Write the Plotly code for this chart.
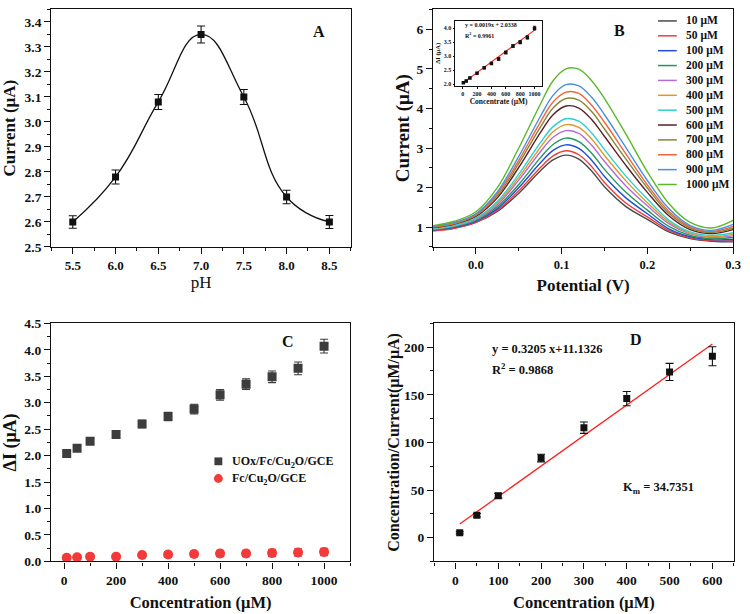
import plotly.graph_objects as go

FONT = "Liberation Serif, Times New Roman, serif"
W, H = 750, 614

# ---------------- Panel A : pH dependence ----------------
ph_values = [5.5, 6.0, 6.5, 7.0, 7.5, 8.0, 8.5]
ph_current = [2.60, 2.78, 3.08, 3.35, 3.10, 2.70, 2.60]
ph_error = [0.025, 0.028, 0.03, 0.034, 0.03, 0.027, 0.026]

# ---------------- Panel B : DPV curves ----------------
potential = [-0.05, -0.025, 0.0, 0.025, 0.05, 0.075, 0.09, 0.105, 0.12, 0.135,
             0.15, 0.175, 0.2, 0.225, 0.25, 0.275, 0.3]
dpv_10 = [0.92, 0.98, 1.12, 1.40, 1.86, 2.42, 2.70, 2.82, 2.72, 2.42, 2.02, 1.52, 1.20, 0.88, 0.71, 0.645, 0.63]
dpv_50 = [0.90, 0.97, 1.12, 1.43, 1.92, 2.50, 2.80, 2.93, 2.83, 2.53, 2.13, 1.61, 1.26, 0.92, 0.73, 0.66, 0.66]
dpv_100 = [0.93, 1.00, 1.15, 1.47, 2.00, 2.62, 2.94, 3.08, 2.99, 2.69, 2.28, 1.74, 1.34, 0.96, 0.76, 0.685, 0.69]
dpv_200 = [0.94, 1.01, 1.17, 1.52, 2.08, 2.75, 3.09, 3.25, 3.16, 2.87, 2.46, 1.88, 1.43, 1.02, 0.79, 0.71, 0.74]
dpv_300 = [0.95, 1.03, 1.20, 1.57, 2.19, 2.90, 3.27, 3.44, 3.37, 3.07, 2.66, 2.04, 1.54, 1.09, 0.83, 0.74, 0.78]
dpv_400 = [0.96, 1.04, 1.22, 1.61, 2.26, 3.01, 3.41, 3.59, 3.52, 3.23, 2.81, 2.17, 1.62, 1.13, 0.85, 0.76, 0.82]
dpv_500 = [0.97, 1.05, 1.23, 1.65, 2.34, 3.13, 3.54, 3.74, 3.68, 3.38, 2.96, 2.29, 1.71, 1.18, 0.88, 0.79, 0.86]
dpv_600 = [0.99, 1.08, 1.27, 1.74, 2.51, 3.38, 3.84, 4.06, 4.01, 3.72, 3.29, 2.56, 1.88, 1.29, 0.94, 0.84, 0.94]
dpv_700 = [1.00, 1.09, 1.30, 1.79, 2.61, 3.52, 4.01, 4.25, 4.21, 3.92, 3.48, 2.72, 1.99, 1.35, 0.98, 0.87, 0.98]
dpv_800 = [1.01, 1.10, 1.32, 1.84, 2.69, 3.65, 4.16, 4.41, 4.38, 4.08, 3.65, 2.85, 2.07, 1.40, 1.01, 0.89, 1.02]
dpv_900 = [1.02, 1.12, 1.34, 1.89, 2.79, 3.79, 4.33, 4.60, 4.57, 4.28, 3.84, 3.01, 2.18, 1.47, 1.04, 0.92, 1.07]
dpv_1000 = [1.04, 1.15, 1.39, 2.00, 3.00, 4.10, 4.70, 5.00, 4.99, 4.70, 4.25, 3.35, 2.40, 1.60, 1.12, 0.98, 1.17]
dpv_series = [dpv_10, dpv_50, dpv_100, dpv_200, dpv_300, dpv_400, dpv_500,
              dpv_600, dpv_700, dpv_800, dpv_900, dpv_1000]
dpv_labels = ["10 μM", "50 μM", "100 μM", "200 μM", "300 μM", "400 μM", "500 μM",
              "600 μM", "700 μM", "800 μM", "900 μM", "1000 μM"]
dpv_colors = ["#4a4a4a", "#f23c3c", "#1f4fd8", "#23975a", "#b46ad8", "#e0982a",
              "#2ecfd0", "#5a1f28", "#86863a", "#f2653a", "#4a8fe0", "#5cb82b"]

# inset of panel B
inset_conc = [10, 50, 100, 200, 300, 400, 500, 600, 700, 800, 900, 1000]
inset_di = [2.05, 2.11, 2.22, 2.39, 2.58, 2.74, 2.90, 3.13, 3.36, 3.50, 3.67, 4.00]
inset_err = [0.03, 0.03, 0.03, 0.03, 0.04, 0.04, 0.05, 0.05, 0.05, 0.06, 0.06, 0.07]
inset_fit_x = [10, 1000]
inset_fit_y = [2.05, 3.93]

# ---------------- Panel C ----------------
conc_c = [10, 50, 100, 200, 300, 400, 500, 600, 700, 800, 900, 1000]
uox_di = [2.04, 2.14, 2.27, 2.40, 2.60, 2.74, 2.88, 3.15, 3.35, 3.49, 3.65, 4.07]
uox_err = [0.05, 0.05, 0.06, 0.06, 0.07, 0.08, 0.09, 0.10, 0.10, 0.11, 0.12, 0.13]
fc_di = [0.07, 0.08, 0.09, 0.09, 0.12, 0.13, 0.14, 0.15, 0.15, 0.16, 0.17, 0.18]
fc_err = [0.02, 0.02, 0.02, 0.03, 0.04, 0.05, 0.05, 0.06, 0.06, 0.07, 0.07, 0.07]
legend_c = ["UOx/Fc/Cu<sub>2</sub>O/GCE", "Fc/Cu<sub>2</sub>O/GCE"]

# ---------------- Panel D ----------------
conc_d = [10, 50, 100, 200, 300, 400, 500, 600]
ratio_d = [5.0, 23.5, 44.0, 83.5, 115.5, 146.0, 174.0, 190.5]
ratio_err = [1.2, 1.8, 2.5, 4.0, 6.0, 7.5, 9.0, 10.0]
fit_d_x = [10, 600]
fit_d_y = [14.3, 203.4]

# ---------------- helpers ----------------
def px(x):
    return x / W

def py(y):
    return 1 - y / H

BLACK = "#111111"

def tfont(size):
    return dict(family=FONT, size=size, color=BLACK, weight="bold")

def axis(domain, rng, dtick, minor_dtick, title, title_size, fmt=None, bold=True,
         anchor=None, standoff=None, tick0=None, ticksize=13.5):
    d = dict(domain=domain, range=rng, dtick=dtick, showline=True, mirror=True,
             linecolor=BLACK, linewidth=1.4, ticks="outside", ticklen=6, tickwidth=1.3,
             tickcolor=BLACK, showgrid=False, zeroline=False, tickfont=tfont(ticksize),
             title=dict(text=title, font=dict(family=FONT, size=title_size, color=BLACK,
                                              weight="bold" if bold else "normal")),
             minor=dict(dtick=minor_dtick, ticks="outside", ticklen=3, tickwidth=1.2,
                        tickcolor=BLACK, showgrid=False))
    if tick0 is not None:
        d["tick0"] = tick0
    if fmt:
        d["tickformat"] = fmt
    if anchor:
        d["anchor"] = anchor
    if standoff is not None:
        d["title"]["standoff"] = standoff
    return d

fig = go.Figure()

# Panel A
fig.add_trace(go.Scatter(x=ph_values, y=ph_current, mode="lines+markers",
                         line=dict(color=BLACK, width=1.3, shape="spline", smoothing=1.3),
                         marker=dict(symbol="square", size=7, color=BLACK),
                         error_y=dict(type="data", array=ph_error, color=BLACK, thickness=1.1, width=4),
                         xaxis="x", yaxis="y", showlegend=False))

# Panel B curves
for vals, col, lab in zip(dpv_series, dpv_colors, dpv_labels):
    fig.add_trace(go.Scatter(x=potential, y=vals, mode="lines", name=lab,
                             line=dict(color=col, width=1.4, shape="spline", smoothing=1.0),
                             xaxis="x2", yaxis="y2", showlegend=False))

# Inset
fig.add_trace(go.Scatter(x=inset_fit_x, y=inset_fit_y, mode="lines",
                         line=dict(color="#ff2020", width=1.1),
                         xaxis="x5", yaxis="y5", showlegend=False))
fig.add_trace(go.Scatter(x=inset_conc, y=inset_di, mode="markers",
                         marker=dict(symbol="square", size=3.5, color=BLACK),
                         error_y=dict(type="data", array=inset_err, color=BLACK, thickness=0.8, width=1.5),
                         xaxis="x5", yaxis="y5", showlegend=False))

# Panel C
fig.add_trace(go.Scatter(x=conc_c, y=uox_di, mode="markers", name=legend_c[0],
                         marker=dict(symbol="square", size=9, color="#3d3d3d"),
                         error_y=dict(type="data", array=uox_err, color="#3d3d3d", thickness=1.1, width=4),
                         xaxis="x3", yaxis="y3", showlegend=False))
fig.add_trace(go.Scatter(x=conc_c, y=fc_di, mode="markers", name=legend_c[1],
                         marker=dict(symbol="circle", size=10, color="#f23a3a"),
                         error_y=dict(type="data", array=fc_err, color="#f23a3a", thickness=1.1, width=4),
                         xaxis="x3", yaxis="y3", showlegend=False))

# Panel D
fig.add_trace(go.Scatter(x=fit_d_x, y=fit_d_y, mode="lines",
                         line=dict(color="#ff2020", width=1.3),
                         xaxis="x4", yaxis="y4", showlegend=False))
fig.add_trace(go.Scatter(x=conc_d, y=ratio_d, mode="markers",
                         marker=dict(symbol="square", size=7, color=BLACK),
                         error_y=dict(type="data", array=ratio_err, color=BLACK, thickness=1.1, width=4),
                         xaxis="x4", yaxis="y4", showlegend=False))

top_dom = [py(246), py(2.5)]
bot_dom = [py(568.3), py(324.3)]

xa = axis([px(51), px(354)], [5.25, 8.75], 0.5, 0.25, "pH", 17, fmt=".1f", bold=False,
          anchor="y", standoff=0, ticksize=13)
ya = axis(top_dom, [2.5, 3.45], 0.1, 0.05, "Current (μA)", 17, fmt=".1f", anchor="x", standoff=12)
xb = axis([px(437.3), px(741)], [-0.05, 0.3], 0.1, 0.05, "Potential (V)", 17, fmt=".1f",
          anchor="y2", standoff=7, tick0=0, ticksize=12.5)
yb = axis(top_dom, [0.5, 6.5], 1, 0.5, "Current (μA)", 19, anchor="x2", standoff=1)
xc = axis([px(50.7), px(353.3)], [-50, 1100], 200, 100, "Concentration (μM)", 16.5,
          anchor="y3", standoff=9, tick0=0)
yc = axis(bot_dom, [0, 4.5], 0.5, 0.25, "ΔI (μA)", 18, fmt=".1f", anchor="x3", standoff=12)
xd = axis([px(438.3), px(741.7)], [-50, 650], 100, 50, "Concentration (μM)", 16.5,
          anchor="y4", standoff=9, tick0=0)
yd = axis(bot_dom, [-25, 225], 50, 25, "Concentration/Current(μM/μA)", 16, anchor="x4",
          standoff=0, tick0=0)

small_tick = dict(family=FONT, size=6, color=BLACK, weight="bold")
xi = dict(domain=[px(460), px(547.3)], range=[-100, 1100], dtick=200, tick0=0, anchor="y5",
          showline=True, mirror=True, linecolor=BLACK, linewidth=0.9, ticks="outside",
          ticklen=2, tickwidth=0.7, tickcolor=BLACK, showgrid=False, zeroline=False,
          tickfont=small_tick,
          title=dict(text="Concentrate (μM)", standoff=2,
                     font=dict(family=FONT, size=7.5, color=BLACK, weight="bold")))
yi = dict(domain=[py(81), py(14)], range=[1.93, 4.27], dtick=0.5, tick0=2.0, anchor="x5",
          tickformat=".1f",
          showline=True, mirror=True, linecolor=BLACK, linewidth=0.9, ticks="outside",
          ticklen=2, tickwidth=0.7, tickcolor=BLACK, showgrid=False, zeroline=False,
          tickfont=small_tick,
          title=dict(text="ΔI (μA)", standoff=2,
                     font=dict(family=FONT, size=6.5, color=BLACK, weight="bold")))

annotations = []
shapes = []

def label(x, y, text, size, anchor="left"):
    annotations.append(dict(xref="paper", yref="paper", x=px(x), y=py(y), text=text,
                            showarrow=False, xanchor=anchor, yanchor="middle",
                            font=dict(family=FONT, size=size, color=BLACK, weight="bold")))

# Panel letters
label(322, 25, "A", 16, "center")
label(626, 24, "B", 16, "center")
label(290, 343, "C", 16, "center")
label(643, 341, "D", 16, "center")

# Panel B legend (drawn manually for compact spacing)
for i, (lab, col) in enumerate(zip(dpv_labels, dpv_colors)):
    yy = 14.3 + i * 15.24
    shapes.append(dict(type="line", xref="paper", yref="paper", x0=px(665), x1=px(684),
                       y0=py(yy), y1=py(yy), line=dict(color=col, width=1.5)))
    label(691, yy, lab, 11.5)

# Panel C legend
shapes.append(dict(type="rect", xref="paper", yref="paper", x0=px(216), x1=px(224),
                   y0=py(469.7), y1=py(461.7), fillcolor="#3d3d3d", line=dict(width=0)))
shapes.append(dict(type="circle", xref="paper", yref="paper", x0=px(215.5), x1=px(224.5),
                   y0=py(487.8), y1=py(478.8), fillcolor="#f23a3a", line=dict(width=0)))
label(231.7, 466, legend_c[0], 12)
label(231.7, 484, legend_c[1], 12)

# Panel D text
label(495, 351, "y = 0.3205 x+11.1326", 12.5)
label(495, 371, "R<sup>2</sup> = 0.9868", 12.5)
label(628, 493, "K<sub>m</sub> = 34.7351", 12.5)

# Inset text
label(467.5, 18, "y = 0.0019x + 2.0338", 6)
label(467.5, 29, "R<sup>2</sup> = 0.9961", 6)

fig.update_layout(
    width=W, height=H, margin=dict(l=0, r=0, t=0, b=0),
    paper_bgcolor="white", plot_bgcolor="white",
    font=dict(family=FONT, color=BLACK),
    xaxis=xa, yaxis=ya, xaxis2=xb, yaxis2=yb, xaxis3=xc, yaxis3=yc,
    xaxis4=xd, yaxis4=yd, xaxis5=xi, yaxis5=yi,
    annotations=annotations, shapes=shapes, showlegend=False,
)

fig.write_html("out.html", config={"displayModeBar": False},
               post_script="document.body.style.margin='0';document.body.style.padding='0';"
                           "document.body.style.overflow='hidden';")
